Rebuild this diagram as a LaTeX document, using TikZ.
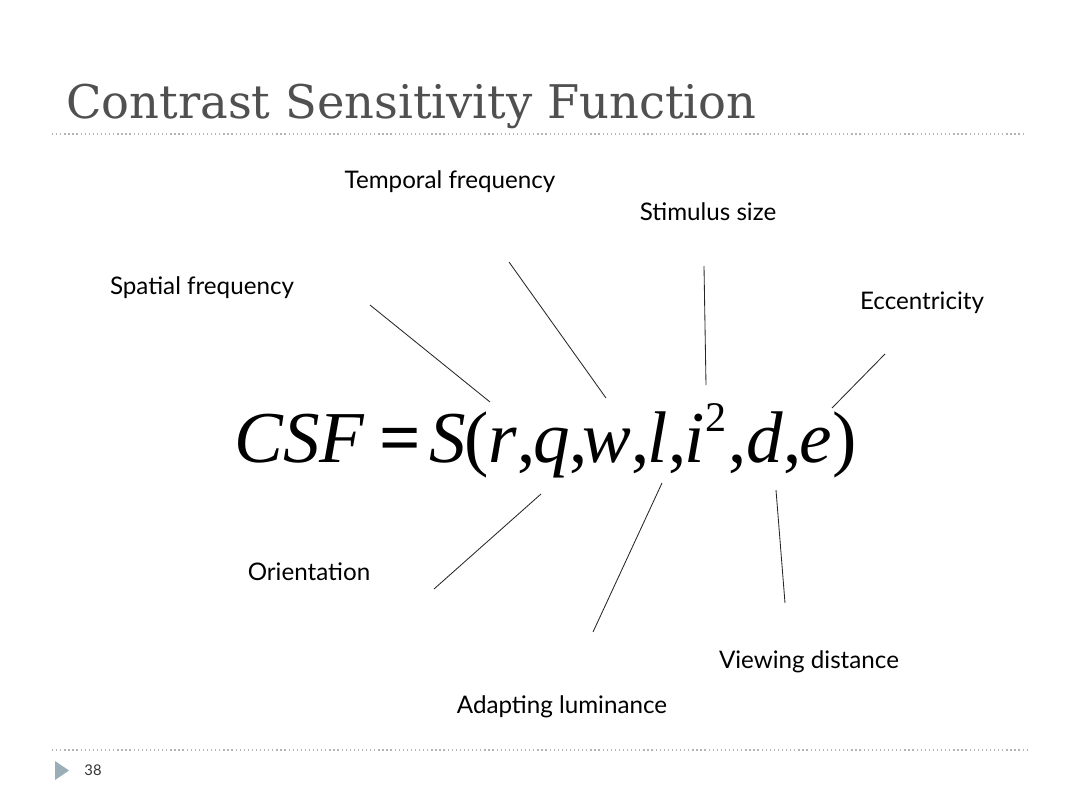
\documentclass[tikz,border=0pt]{standalone}
\usepackage{fontspec}
\setmainfont{Liberation Serif}
\newfontfamily\labelfont{Lato}
\newfontfamily\titlefont{DejaVu Serif}
\usetikzlibrary{positioning}
\definecolor{titlegray}{HTML}{505050}
\definecolor{rulegray}{HTML}{B4B4B4}
\definecolor{markblue}{HTML}{9AAEB8}
\newcommand{\csfsup}[1]{\raisebox{0.42em}{\fontsize{30}{30}\selectfont #1}}
\tikzset{
  factor/.style={font=\labelfont\fontsize{17.2}{19}\selectfont, text=black, inner sep=1pt},
  lead/.style={draw=black!85, line width=0.6pt},
  sliderule/.style={draw=rulegray, line width=0.9pt, dotted},
}

\begin{document}
\begin{tikzpicture}[x=0.025cm, y=-0.025cm]
\useasboundingbox (0,0) rectangle (1080,810);

% title and rules
\draw(66,118) node[anchor=base west, inner sep=0pt, text=titlegray,
  font=\titlefont\fontsize{33}{36}\selectfont] (title) {Contrast Sensitivity Function};
\draw[sliderule] (52,134) -- (1025,134);
\draw[sliderule] (52,750) -- (1030,750);

% formula
\draw(234,462) node[anchor=base west, inner sep=0pt,
  font=\fontsize{52}{60}\selectfont] (csf)
  {\textit{CSF}\hspace{0.2em}\textbf{=}\hspace{0.12em}\textit{S}\kern-0.03em(\textit{r},\kern-0.03em\textit{q},\kern-0.07em\textit{w},\kern-0.03em\textit{l},\kern-0.03em\textit{i}\kern0.01em\csfsup{2}\kern0.03em,\textit{d},\kern-0.03em\textit{e}\kern0.01em)};

% factors
\draw(450,182) node[factor] (temp) {Temporal frequency};
\draw(708,212) node[factor] (size) {Stimulus size};
\draw(202,288) node[factor] (spat) {Spatial frequency};
\draw(922,303) node[factor] (ecc) {Eccentricity};
\draw(309,572) node[factor] (orient) {Orientation};
\draw(562,707) node[factor] (lum) {Adapting luminance};
\draw(809,662) node[factor] (dist) {Viewing distance};

% leader lines
\coordinate (spat-a) at (370,305);  \coordinate (spat-b) at (490,402);
\coordinate (temp-a) at (509,262);  \coordinate (temp-b) at (606,398);
\coordinate (size-a) at (704,266);  \coordinate (size-b) at (706,385);
\coordinate (ecc-a) at (885,354);   \coordinate (ecc-b) at (832,408);
\coordinate (orient-a) at (541,494); \coordinate (orient-b) at (434,589);
\coordinate (lum-a) at (662,483);   \coordinate (lum-b) at (593,632);
\coordinate (dist-a) at (776,490);  \coordinate (dist-b) at (785,603);
\draw[lead] (spat-a) -- (spat-b);
\draw[lead] (temp-a) -- (temp-b);
\draw[lead] (size-a) -- (size-b);
\draw[lead] (ecc-a) -- (ecc-b);
\draw[lead] (orient-a) -- (orient-b);
\draw[lead] (lum-a) -- (lum-b);
\draw[lead] (dist-a) -- (dist-b);

% slide number
\fill[markblue] (55,761) coordinate (tri) -- (69,770.5) -- (55,780) -- cycle;
\draw(93,770) node[font=\labelfont\fontsize{10.5}{12}\selectfont, text=black!80] (pagenum) {38};
\end{tikzpicture}
\end{document}
